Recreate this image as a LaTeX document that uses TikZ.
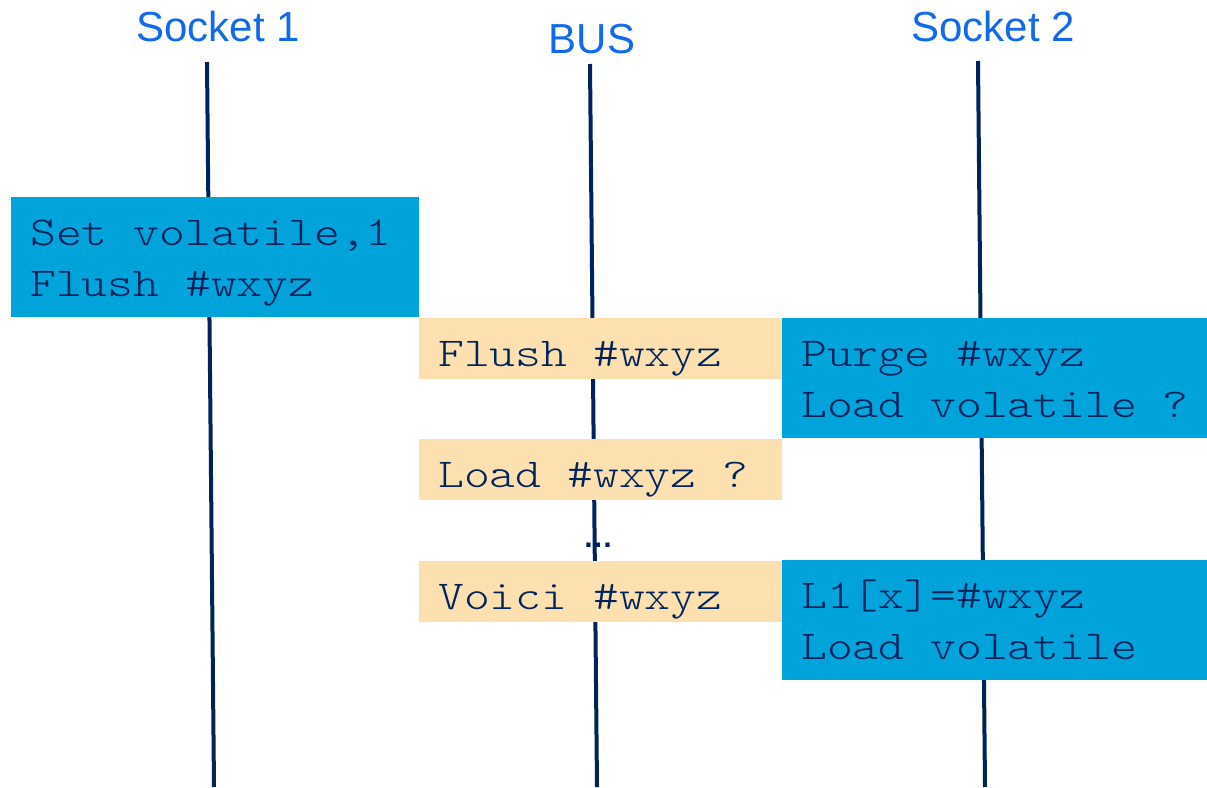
\documentclass[tikz,border=0pt]{standalone}
\usepackage{fontspec}
\setmainfont{Liberation Sans}
\newfontfamily\codefont[FakeStretch=1.2]{lmmonolt10-regular.otf}
\definecolor{titleblue}{RGB}{18,105,235}
\definecolor{navy}{RGB}{0,35,90}
\definecolor{cpublue}{RGB}{0,163,218}
\definecolor{busbeige}{RGB}{252,224,176}
% one full character cell between words of the code lines
\newcommand\cellspace{\spaceskip=25.83pt\relax\xspaceskip=25.83pt\relax}
\begin{document}
\begin{tikzpicture}[x=1pt,y=-1pt,
  title/.style={font=\fontsize{42}{50}\selectfont, text=titleblue, anchor=base, inner sep=0pt},
  lifeline/.style={draw=navy, line width=4pt},
  codebox/.style={anchor=north west, inner xsep=19pt, inner ysep=0pt,
    text=navy, font=\codefont\fontsize{41}{51}\selectfont\cellspace, text height=48pt,
    execute at begin node=\cellspace},
  cpubox/.style={codebox, fill=cpublue, text depth=72pt},
  busbox/.style={codebox, fill=busbeige, text width=325pt, text depth=13pt},
]
\useasboundingbox (0,0) rectangle (1207,787);
\fill[white] (0,0) rectangle (1207,787);

% column titles
\node[title] (t1) at (218,41) {Socket 1};
\node[title] (tb) at (592,53) {BUS};
\node[title] (t2) at (993,41) {Socket 2};

% lifelines
\coordinate (s1top) at (207,62);  \coordinate (s1bot) at (214,787);
\coordinate (bstop) at (590,64);  \coordinate (bsbot) at (597,787);
\coordinate (s2top) at (978,61);  \coordinate (s2bot) at (985,787);
\draw[lifeline] (s1top) -- (s1bot);
\draw[lifeline] (bstop) -- (bsbot);
\draw[lifeline] (s2top) -- (s2bot);

% socket 1
\node[cpubox, text width=370pt] (set) at (11,197) {Set volatile,1\\Flush \#wxyz};

% bus messages
\node[busbox] (bflush) at (419,318) {Flush \#wxyz};
\node[busbox] (bload)  at (419,439) {Load \#wxyz ?};
\node[anchor=base, inner sep=0pt, text=navy, font=\bfseries\fontsize{30}{34}\selectfont] (dots) at (598,547) {…};
\node[busbox] (bvoici) at (419,561) {Voici \#wxyz};

% socket 2 (boxes run to the right edge of the page)
\node[cpubox, text width=405pt] (purge) at (782,318) {Purge \#wxyz\\Load volatile ?};
\node[cpubox, text width=405pt] (l1)    at (782,560) {L1[x]=\#wxyz\\Load volatile};
\end{tikzpicture}
\end{document}
